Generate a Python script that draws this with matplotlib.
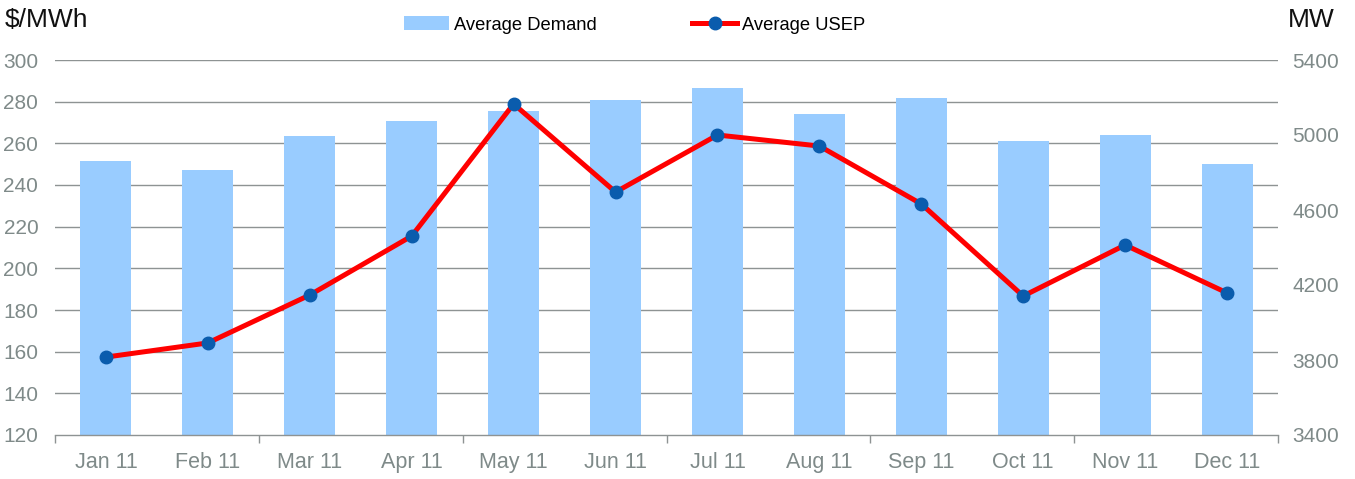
import matplotlib
matplotlib.use("Agg")
import matplotlib.pyplot as plt
from matplotlib.lines import Line2D
from matplotlib.patches import Patch
import numpy as np

months = ["Jan 11", "Feb 11", "Mar 11", "Apr 11", "May 11", "Jun 11",
          "Jul 11", "Aug 11", "Sep 11", "Oct 11", "Nov 11", "Dec 11"]
demand_mw = [4861, 4813, 4995, 5075, 5128, 5187, 5251, 5112, 5197, 4968, 5000, 4845]
usep = [157.4, 164.2, 187.2, 215.5, 278.9, 236.6, 264.0, 258.7, 230.9, 186.7, 211.2, 188.2]
left_ticks = [120, 140, 160, 180, 200, 220, 240, 260, 280, 300]
right_ticks = [3400, 3800, 4200, 4600, 5000, 5400]

plt.rcParams['font.family'] = ['Liberation Sans', 'DejaVu Sans']
grey = '#7f8a89'
grid_c = '#8e9393'

fig = plt.figure(figsize=(13.55, 4.79), dpi=100)
ax = fig.add_axes([55/1355, 1-435/479, (1278-55)/1355, (435-60)/479])
ax2 = ax.twinx()

x = np.arange(len(months))
ax.set_zorder(ax2.get_zorder() + 1)
ax.patch.set_visible(False)

ax2.bar(x, np.array(demand_mw) - 3400, bottom=3400, width=0.5, color='#99ccff', zorder=2)
ax2.set_ylim(3400, 5400)
ax2.set_yticks(right_ticks)
ax2.set_xlim(-0.5, 11.5)

for t in left_ticks[1:]:
    ax2.axhline(3400 + (t - 120) * 2000 / 180, color=grid_c, lw=1.0, zorder=1)

ax.plot(x, usep, color='#ff0000', lw=3.6, marker='o', markersize=9,
        markerfacecolor='#0a5cad', markeredgecolor='#0a5cad', zorder=5)
ax.set_ylim(120, 300)
ax.set_yticks(left_ticks)
ax.set_xlim(-0.5, 11.5)
ax.set_xticks(x)
ax.set_xticklabels(months)
ax.set_xticks(np.arange(-0.5, 12, 2), minor=True)

for a in (ax, ax2):
    for s in ('top', 'left', 'right', 'bottom'):
        a.spines[s].set_visible(False)
ax.spines['bottom'].set_visible(True)
ax.spines['bottom'].set_color(grid_c)
ax.spines['bottom'].set_linewidth(1.0)

ax.tick_params(axis='x', which='major', length=0, pad=12.5, labelsize=15.5, labelcolor=grey)
ax.tick_params(axis='x', which='minor', length=6, color=grid_c, width=1)
ax.tick_params(axis='y', length=0, pad=12, labelsize=15, labelcolor=grey)
ax2.tick_params(axis='y', length=0, pad=10.5, labelsize=15, labelcolor=grey)
ax2.tick_params(axis='x', length=0, labelbottom=False)

fig.text(5/1355, 1-20/479, '$/MWh', fontsize=19, color='#111111', va='center', ha='left')
fig.text(1335/1355, 1-20/479, 'MW', fontsize=19, color='#111111', va='center', ha='right')

handles = [Patch(facecolor='#99ccff', edgecolor='none'),
           Line2D([0], [0], color='#ff0000', lw=3.6, marker='o', markersize=9,
                  markerfacecolor='#0a5cad', markeredgecolor='#0a5cad')]
fig.legend(handles, ['Average Demand', 'Average USEP'], loc='center',
           bbox_to_anchor=(635/1355, 1-25/479), ncol=2, frameon=False,
           fontsize=13.2, columnspacing=5.2, handlelength=2.45, handletextpad=0.28,
           handleheight=0.8)

fig.savefig('out.png', dpi=100)
